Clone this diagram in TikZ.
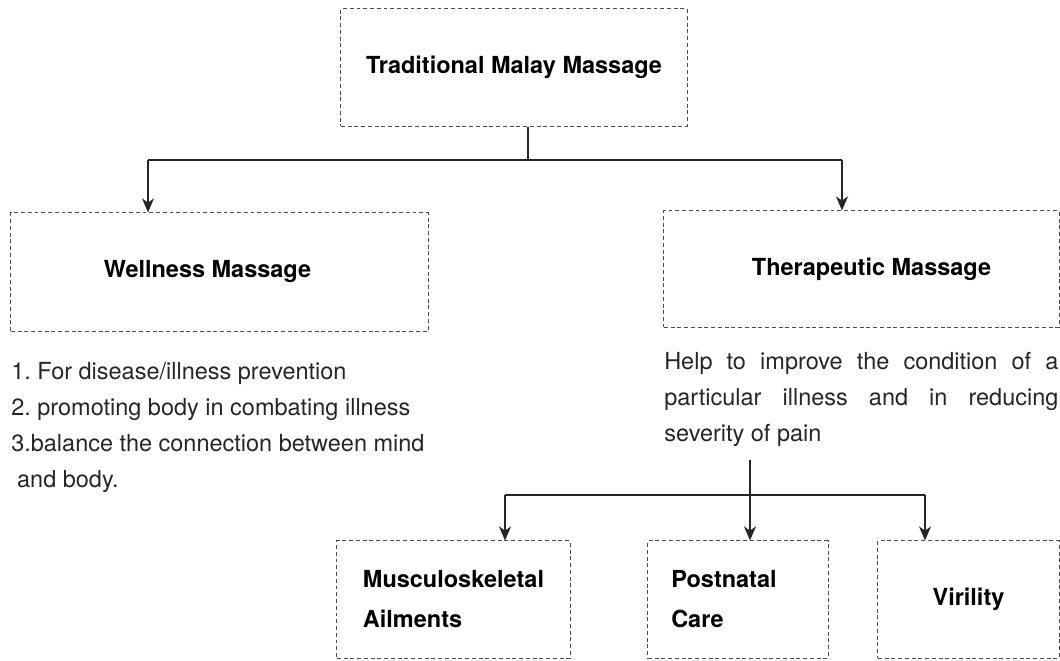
\documentclass[tikz,border=0pt]{standalone}
\usepackage{fontspec}
\setmainfont{TeX Gyre Heros}
\usetikzlibrary{arrows.meta}
\frenchspacing
\begin{document}
\begin{tikzpicture}[>={Stealth[length=10pt,width=8.5pt,inset=3pt]},x=0.025cm,y=-0.025cm,font=\fontsize{16.7}{25.6}\selectfont,
	box/.style={draw=black!70,dash pattern=on 2.8pt off 2pt,line width=0.7pt,inner sep=0pt,font=\fontsize{16.7}{28.5}\selectfont\bfseries},
	link/.style={line width=1.4pt,color=black!85}]
	\useasboundingbox (0,0) rectangle (1060,661);
	% boxes
	\node[box,minimum width=8.65cm,minimum height=2.925cm] (tmm) at (514,67.5) {Traditional Malay Massage};
	\node[box,minimum width=10.425cm,minimum height=2.95cm] (wellness) at (219.5,272) {Wellness Massage\hspace*{0.6cm}};
	\node[box,minimum width=9.875cm,minimum height=2.9cm] (thera) at (861.5,269) {\hspace*{0.5cm}Therapeutic Massage};
	\node[box,minimum width=5.825cm,minimum height=2.925cm,align=left] (musc) at (453.5,599.5) {Musculoskeletal\\Ailments};
	\node[box,minimum width=4.5cm,minimum height=2.925cm,align=left] (post) at (738,599.5) {Postnatal\hspace*{0.7cm}\\Care};
	\node[box,minimum width=4.525cm,minimum height=2.925cm] (viril) at (968.5,599.5) {Virility};
	% texts
	\node[anchor=north west,inner sep=0pt,align=left,text=black!85] (wlist) at (11,362) {1. For disease/illness prevention\\2. promoting body in combating illness\\3.balance the connection between mind\\\hspace*{0.25em}and body.};
	\node[anchor=north west,inner sep=0pt,text width=9.85cm,align=justify,text=black!85] (desc) at (664,352) {\hyphenpenalty=10000 Help to improve the condition of a\linebreak particular illness and in reducing\linebreak severity of pain};
	% connectors
	\coordinate (j1) at (528,160);
	\coordinate (wl) at (148,160);
	\coordinate (tr) at (842,160);
	\draw[link] (j1 |- tmm.south) -- (j1);
	\draw[link] (wl) -- (tr);
	\draw[link,->] (wl) -- (wl |- wellness.north);
	\draw[link,->] (tr) -- (tr |- thera.north);
	\coordinate (d0) at (750,460);
	\coordinate (j2) at (750,495);
	\coordinate (ml) at (505,495);
	\coordinate (vr) at (925,495);
	\draw[link] (d0) -- (j2);
	\draw[link] (ml) -- (vr);
	\draw[link,->] (ml) -- (ml |- musc.north);
	\draw[link,->] (j2) -- (j2 |- post.north);
	\draw[link,->] (vr) -- (vr |- viril.north);
\end{tikzpicture}
\end{document}
